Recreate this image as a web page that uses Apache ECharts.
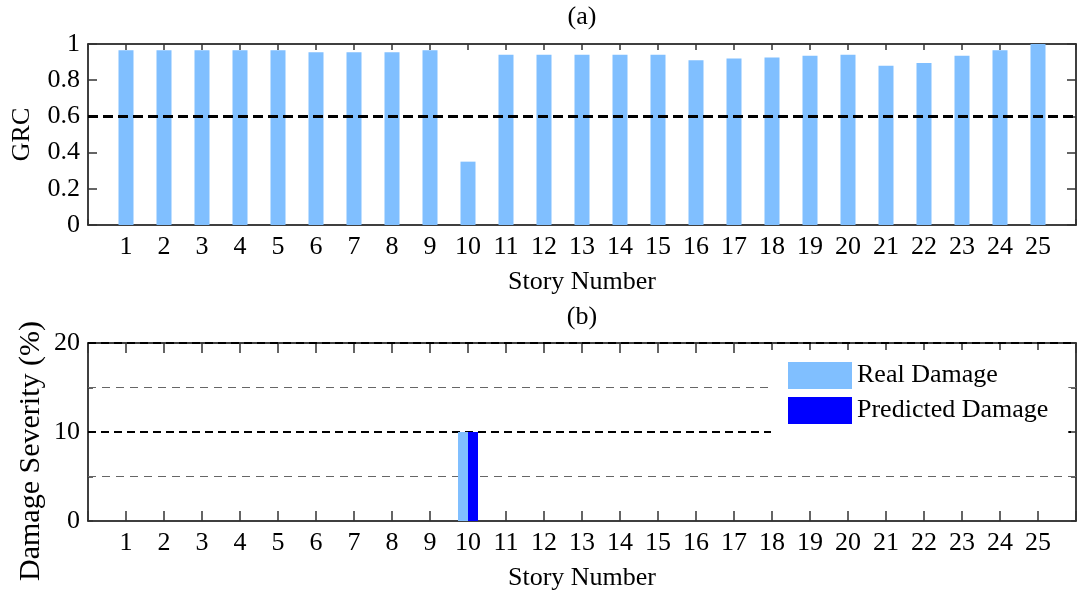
<!DOCTYPE html>
<html>
<head>
<meta charset="utf-8">
<script src="https://cdn.jsdelivr.net/npm/echarts@6/dist/echarts.min.js"></script>
<style>html,body{margin:0;padding:0;background:#fff;}#c{width:1079px;height:593px;}</style>
</head>
<body>
<div id="c"></div>
<script>
const stories = [1,2,3,4,5,6,7,8,9,10,11,12,13,14,15,16,17,18,19,20,21,22,23,24,25];
const grc = [0.965,0.965,0.965,0.965,0.965,0.955,0.955,0.955,0.965,0.35,0.94,0.94,0.94,0.94,0.94,0.91,0.92,0.925,0.935,0.94,0.88,0.895,0.935,0.965,1.0];
const realDamage = [0,0,0,0,0,0,0,0,0,10,0,0,0,0,0,0,0,0,0,0,0,0,0,0,0];
const predictedDamage = [0,0,0,0,0,0,0,0,0,10,0,0,0,0,0,0,0,0,0,0,0,0,0,0,0];
const grcThreshold = 0.6;
const titleA = '(a)', titleB = '(b)';
const damageAxisTitle = 'Damage Severity (%)';

const FONT = 'Liberation Serif';
const FS = 26;
const chart = echarts.init(document.getElementById('c'), null, {renderer:'canvas'});

function xAx(gi, pos, tickLen, showLabel, name) {
  return {
    type:'value', gridIndex:gi, position:pos, min:0, max:26, interval:1,
    axisLine:{show:true, onZero:false, lineStyle:{color:'#000', width:1.5}},
    axisTick:{show:true, inside:true, length:tickLen, lineStyle:{color:'#333', width:1.5}},
    axisLabel:{show:showLabel, margin:9, fontFamily:FONT, fontSize:FS, color:'#000',
      formatter: v => (v>=1 && v<=25) ? String(v) : ''},
    splitLine:{show:false},
    name: name || '', nameLocation:'middle', nameGap:44,
    nameTextStyle:{fontFamily:FONT, fontSize:FS, color:'#000'}
  };
}
function yAx(gi, pos, min, max, interval, tickLen, showLabel, fmt, name, gap) {
  return {
    type:'value', gridIndex:gi, position:pos, min:min, max:max, interval:interval,
    axisLine:{show:true, onZero:false, lineStyle:{color:'#000', width:1.5}},
    axisTick:{show:true, inside:true, length:tickLen, lineStyle:{color:'#333', width:1.5}},
    axisLabel:{show:showLabel, margin:8, fontFamily:FONT, fontSize:FS, color:'#000', formatter:fmt},
    splitLine:{show:false},
    name:name||'', nameLocation:'middle', nameGap:gap||50,
    nameTextStyle:{fontFamily:FONT, fontSize:FS, color:'#000'}
  };
}

const option = {
  animation:false,
  backgroundColor:'#fff',
  graphic:[
    {type:'text', x:582, y:4, style:{text:titleA, font:FS+'px '+FONT, fill:'#000', textAlign:'center'}},
    {type:'text', x:582, y:304, style:{text:titleB, font:FS+'px '+FONT, fill:'#000', textAlign:'center'}},
    {type:'text', x:31, y:451, rotation:Math.PI/2,
      style:{text:damageAxisTitle, font:'30px '+FONT, fill:'#000', textAlign:'center', textVerticalAlign:'middle'}}
  ],
  grid:[
    {left:88, top:44, width:988, height:181},
    {left:88, top:343, width:988, height:178}
  ],
  xAxis:[
    xAx(0,'bottom',6,true,'Story Number'),
    xAx(0,'top',6,false),
    xAx(1,'bottom',10,true,'Story Number'),
    xAx(1,'top',10,false)
  ],
  yAxis:[
    yAx(0,'left',0,1,0.2,9,true, v => String(Math.round(v*10)/10), 'GRC', 53),
    yAx(0,'right',0,1,0.2,9,false),
    yAx(1,'left',0,20,5,5,true, v => (v%10===0 ? String(v) : '')),
    yAx(1,'right',0,20,5,5,false)
  ],
  legend:{
    show:true, orient:'vertical', left:771, top:350, z:20,
    padding:[12,20,16,17], itemGap:8, itemWidth:64, itemHeight:27,
    backgroundColor:'#fff', borderWidth:0,
    data:[{name:'Real Damage', icon:'rect'},{name:'Predicted Damage', icon:'rect'}],
    textStyle:{fontFamily:FONT, fontSize:FS, color:'#000'}
  },
  series:[
    {
      type:'bar', name:'GRC', xAxisIndex:0, yAxisIndex:0, barWidth:15,
      itemStyle:{color:'#80BFFF'},
      data: stories.map((s,i)=>[s, grc[i]]),
      markLine:{silent:true, symbol:'none', label:{show:false},
        lineStyle:{color:'#000', type:[10,5], width:3},
        data:[{yAxis:grcThreshold}]}
    },
    {
      type:'bar', name:'Real Damage', xAxisIndex:2, yAxisIndex:2, barWidth:10, barGap:'0%',
      itemStyle:{color:'#80BFFF'},
      data: stories.map((s,i)=>[s, realDamage[i]]),
      markLine:{silent:true, symbol:'none', label:{show:false}, z:1,
        data:[
          {yAxis:5, lineStyle:{color:'#666', type:[8,6], width:1.2}},
          {yAxis:15, lineStyle:{color:'#666', type:[8,6], width:1.2}},
          {yAxis:10, lineStyle:{color:'#000', type:[8,5], width:1.8}},
          {yAxis:20, lineStyle:{color:'#000', type:[8,5], width:1.8}}
        ]}
    },
    {
      type:'bar', name:'Predicted Damage', xAxisIndex:2, yAxisIndex:2, barWidth:10, barGap:'0%',
      itemStyle:{color:'#0000FF'},
      data: stories.map((s,i)=>[s, predictedDamage[i]])
    }
  ]
};
chart.setOption(option);
</script>
</body>
</html>
